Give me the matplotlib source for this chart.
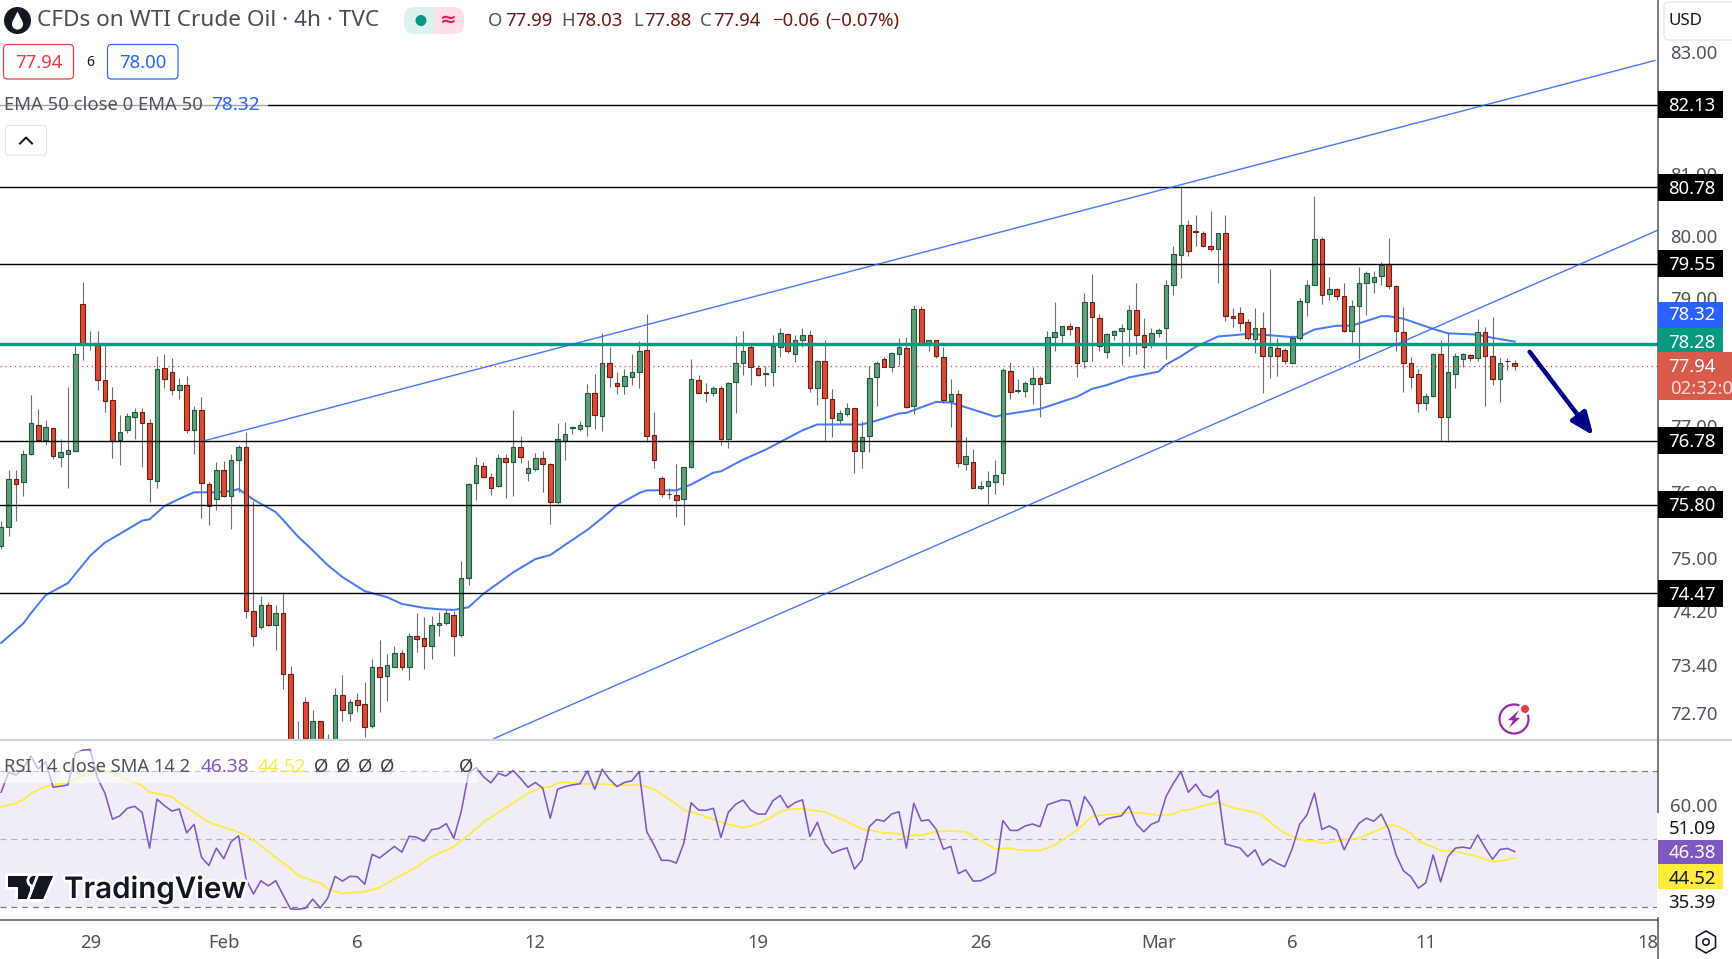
#!/usr/bin/env python3
# -*- coding: utf-8 -*-

import numpy as np
import matplotlib
matplotlib.use("Agg")
import matplotlib.pyplot as plt
import matplotlib.patheffects as pe
from matplotlib.patches import Rectangle, Circle, Polygon, FancyBboxPatch, RegularPolygon
from matplotlib.ticker import NullLocator

plt.rcParams["font.family"] = ["Noto Sans", "DejaVu Sans"]

opens = [
    75.17, 75.46, 76.19, 76.14, 76.58, 77.02, 76.79, 76.97, 76.53, 76.58,
    76.62, 78.92, 78.30, 78.29, 77.72, 77.41, 76.79, 76.95, 77.14, 77.22,
    77.06, 76.17, 77.91, 77.85, 77.57, 77.64, 76.94, 77.25, 76.11, 75.89,
    76.33, 75.93, 76.49, 76.69, 74.21, 73.96, 74.30, 73.99, 74.18, 73.28,
    72.10, 72.87, 72.18, 72.58, 72.10, 72.32, 72.96, 72.70, 72.89, 72.83,
    72.51, 73.37, 73.25, 73.38, 73.58, 73.38, 73.83, 73.80, 73.69, 74.00,
    74.02, 74.15, 73.85, 74.69, 76.13, 76.39, 76.22, 76.08, 76.51, 76.46,
    76.68, 76.28, 76.35, 76.52, 76.43, 75.84, 76.78, 76.98, 76.96, 77.01,
    77.52, 77.16, 77.98, 77.67, 77.63, 77.76, 77.84, 78.19, 76.87, 76.21,
    75.97, 75.95, 75.89, 76.37, 77.72, 77.53, 77.52, 77.59, 76.80, 77.69,
    77.98, 78.23, 77.90, 77.82, 77.84, 78.23, 78.44, 78.13, 78.34, 78.42,
    77.59, 78.01, 77.43, 77.10, 77.19, 77.28, 76.62, 76.85, 77.76, 78.05,
    77.93, 78.13, 78.22, 77.32, 78.84, 78.29, 78.34, 78.08, 77.40, 77.50,
    76.42, 76.46, 76.05, 76.09, 76.15, 76.28, 77.86, 77.55, 77.55, 77.66,
    77.75, 77.68, 78.39, 78.43, 78.56, 78.55, 78.01, 78.94, 78.69, 78.15,
    78.43, 78.49, 78.52, 78.81, 78.42, 78.26, 78.45, 78.54, 79.21, 79.69,
    80.17, 80.07, 80.05, 79.83, 79.79, 80.04, 78.72, 78.77, 78.63, 78.36,
    78.54, 78.09, 78.22, 78.19, 77.99, 78.38, 78.95, 79.22, 79.94, 79.07,
    79.15, 79.04, 78.48, 78.88, 79.25, 79.26, 79.36, 79.55, 79.20, 78.47,
    77.98, 77.82, 77.36, 77.47, 78.12, 77.15, 77.82, 78.04, 78.11, 78.07,
    78.47, 78.10, 77.73, 78.02, 77.99,
]
highs = [
    75.55, 76.33, 76.33, 76.64, 77.48, 77.27, 77.10, 76.97, 76.80, 77.61,
    78.25, 79.26, 78.49, 78.49, 78.30, 77.61, 77.18, 77.21, 77.28, 77.29,
    77.11, 78.10, 78.12, 78.07, 77.75, 77.79, 77.32, 77.46, 76.15, 76.45,
    76.47, 76.57, 76.72, 76.91, 75.86, 74.42, 74.34, 74.30, 74.48, 73.39,
    72.59, 72.94, 72.74, 72.59, 72.39, 73.07, 73.26, 72.91, 73.00, 73.16,
    73.50, 73.78, 73.57, 73.69, 73.63, 73.87, 74.18, 74.12, 74.13, 74.19,
    74.24, 74.21, 74.95, 76.13, 76.53, 76.45, 76.29, 76.58, 76.58, 77.26,
    76.85, 76.48, 76.59, 76.62, 76.44, 77.05, 77.07, 77.01, 77.09, 77.65,
    77.82, 78.45, 78.23, 77.84, 77.89, 78.13, 78.33, 78.75, 77.22, 76.24,
    76.06, 76.42, 76.38, 78.05, 77.80, 77.67, 77.62, 77.62, 77.69, 78.41,
    78.49, 78.30, 77.96, 77.94, 78.43, 78.54, 78.45, 78.43, 78.53, 78.51,
    78.03, 78.35, 77.58, 77.26, 77.36, 77.29, 77.09, 77.94, 78.02, 78.08,
    78.15, 78.38, 78.39, 78.90, 78.88, 78.35, 78.35, 78.24, 77.74, 77.56,
    76.84, 76.65, 76.16, 76.31, 76.48, 77.90, 78.00, 77.74, 77.70, 77.92,
    77.78, 78.49, 78.94, 78.57, 78.61, 78.55, 79.09, 79.39, 78.75, 78.46,
    78.51, 78.60, 78.90, 79.24, 78.69, 78.53, 78.53, 79.30, 79.84, 80.80,
    80.25, 80.34, 80.08, 80.39, 80.05, 80.34, 78.85, 78.86, 78.67, 78.85,
    78.79, 79.47, 78.38, 78.22, 78.42, 79.01, 79.29, 80.64, 79.98, 79.34,
    79.17, 79.25, 78.98, 79.50, 79.44, 79.44, 79.58, 79.97, 79.22, 78.86,
    78.08, 77.89, 77.51, 78.14, 78.34, 78.46, 78.14, 78.14, 78.12, 78.67,
    78.55, 78.70, 78.06, 78.06, 78.03,
]
lows = [
    75.13, 75.33, 75.55, 75.93, 76.56, 76.77, 76.72, 76.50, 76.38, 76.05,
    76.61, 78.03, 78.19, 77.56, 77.22, 76.52, 76.40, 76.90, 76.80, 76.38,
    75.84, 76.06, 77.59, 77.49, 77.43, 76.90, 76.58, 75.60, 75.50, 75.72,
    75.92, 75.43, 76.00, 74.10, 73.68, 73.94, 73.98, 73.62, 73.06, 72.00,
    71.95, 72.31, 72.06, 72.05, 72.00, 72.27, 72.59, 72.59, 72.72, 72.35,
    72.48, 72.72, 72.88, 73.37, 73.33, 73.19, 73.60, 73.35, 73.50, 73.84,
    74.00, 73.54, 73.82, 74.59, 75.88, 76.21, 75.95, 76.07, 75.91, 75.94,
    76.44, 76.16, 76.32, 76.00, 75.51, 75.81, 76.48, 76.88, 76.93, 76.85,
    76.96, 76.93, 77.61, 77.50, 77.50, 77.64, 77.59, 76.76, 76.36, 75.92,
    75.89, 75.62, 75.49, 76.36, 77.51, 77.38, 77.47, 76.71, 76.67, 77.21,
    77.80, 77.64, 77.78, 77.62, 77.63, 78.08, 78.14, 78.00, 78.24, 77.54,
    77.33, 76.78, 76.83, 77.04, 77.16, 76.29, 76.36, 76.60, 77.31, 77.92,
    77.85, 77.96, 77.29, 77.19, 78.28, 78.17, 78.07, 77.37, 76.99, 76.38,
    76.33, 76.05, 76.03, 75.81, 75.97, 76.10, 77.42, 77.51, 77.45, 77.35,
    77.15, 77.67, 78.17, 78.30, 78.43, 77.76, 77.90, 78.01, 78.18, 78.07,
    78.35, 77.95, 78.10, 78.12, 77.91, 78.22, 78.40, 78.04, 79.05, 79.32,
    79.67, 79.84, 79.82, 79.75, 79.25, 78.64, 78.55, 78.48, 78.35, 78.14,
    77.51, 77.75, 77.79, 77.97, 77.98, 78.34, 78.72, 79.21, 78.91, 78.98,
    78.97, 78.47, 78.30, 78.04, 78.74, 79.08, 79.22, 79.15, 78.18, 77.54,
    77.60, 77.23, 77.26, 77.46, 76.77, 76.76, 77.60, 77.93, 78.01, 78.02,
    77.32, 77.64, 77.38, 77.88, 77.88,
]
closes = [
    75.47, 76.19, 76.12, 76.58, 77.05, 76.79, 76.99, 76.55, 76.60, 76.63,
    78.13, 78.29, 78.29, 77.72, 77.39, 76.78, 76.92, 77.16, 77.22, 77.06,
    76.19, 77.89, 77.74, 77.57, 77.64, 76.95, 77.25, 76.13, 75.78, 76.33,
    75.93, 76.49, 76.69, 74.21, 73.84, 74.30, 73.99, 74.18, 73.28, 72.18,
    72.20, 72.34, 72.58, 72.20, 72.25, 72.96, 72.74, 72.87, 72.82, 72.50,
    73.37, 73.23, 73.40, 73.58, 73.38, 73.83, 73.79, 73.69, 74.00, 74.03,
    74.17, 73.84, 74.69, 76.11, 76.40, 76.22, 76.06, 76.51, 76.45, 76.68,
    76.53, 76.36, 76.52, 76.43, 75.84, 76.80, 76.88, 76.99, 77.02, 77.52,
    77.17, 77.98, 77.76, 77.63, 77.78, 77.84, 78.17, 76.85, 76.49, 75.97,
    75.96, 75.87, 76.37, 77.73, 77.52, 77.52, 77.59, 76.80, 77.68, 77.98,
    78.17, 77.92, 77.80, 77.83, 78.25, 78.45, 78.18, 78.34, 78.42, 77.59,
    78.01, 77.44, 77.13, 77.21, 77.28, 76.62, 76.84, 77.75, 77.98, 77.93,
    78.14, 78.23, 77.30, 78.83, 78.29, 78.34, 78.09, 77.41, 77.50, 76.44,
    76.54, 76.06, 76.09, 76.17, 76.26, 77.87, 77.54, 77.56, 77.67, 77.75,
    77.66, 78.39, 78.47, 78.56, 78.52, 77.99, 78.95, 78.70, 78.25, 78.44,
    78.48, 78.53, 78.81, 78.42, 78.23, 78.45, 78.51, 79.22, 79.71, 80.18,
    79.75, 80.06, 79.83, 79.78, 80.04, 78.72, 78.69, 78.62, 78.37, 78.54,
    78.09, 78.23, 78.09, 78.01, 78.38, 78.96, 79.22, 79.94, 79.06, 79.15,
    79.04, 78.48, 78.88, 79.25, 79.40, 79.34, 79.53, 79.20, 78.48, 77.99,
    77.77, 77.36, 77.47, 78.12, 77.14, 77.84, 78.09, 78.12, 78.07, 78.47,
    78.10, 77.73, 77.98, 78.01, 77.94,
]

ema_idx = [0, 3, 4, 6, 9, 12, 14, 16, 19, 20, 22, 24, 26, 29, 31, 32, 34, 37, 38, 40,
           42, 44, 46, 49, 52, 54, 57, 59, 61, 63, 65, 69, 72, 74, 77, 79, 81, 83, 86, 87,
           91, 93, 96, 97, 100, 103, 108, 110, 113, 116, 118, 121, 122, 126, 128, 134, 135, 140, 145, 147,
           149, 152, 156, 157, 159, 161, 164, 168, 171, 174, 175, 177, 180, 182, 186, 187, 189, 193, 195, 199,
           201, 204]
ema_vals = [73.73, 74.02, 74.17, 74.44, 74.62, 75.03, 75.23, 75.36, 75.56, 75.58,
            75.78, 75.89, 75.99, 75.99, 76.01, 76.04, 75.88, 75.69, 75.57, 75.32,
            75.11, 74.89, 74.71, 74.50, 74.41, 74.31, 74.25, 74.23, 74.22, 74.26,
            74.46, 74.78, 74.98, 75.04, 75.27, 75.42, 75.60, 75.79, 75.98, 76.02,
            76.02, 76.11, 76.29, 76.31, 76.49, 76.64, 76.94, 77.03, 77.03, 77.03,
            77.09, 77.20, 77.21, 77.38, 77.37, 77.15, 77.18, 77.27, 77.46, 77.58,
            77.64, 77.76, 77.85, 77.96, 78.09, 78.24, 78.40, 78.44, 78.42, 78.39,
            78.40, 78.51, 78.57, 78.57, 78.72, 78.72, 78.68, 78.52, 78.45, 78.43,
            78.38, 78.32]

rsi_vals = [
    63.8, 69.7, 68.9, 70.9, 74.5, 70.7, 72.8, 65.3, 65.6, 66.0,
    75.3, 76.2, 76.4, 67.9, 63.5, 55.9, 56.9, 59.1, 59.7, 57.9,
    47.4, 61.8, 59.9, 58.3, 58.9, 51.9, 54.4, 44.7, 42.3, 47.4,
    44.3, 49.3, 51.0, 38.3, 33.9, 37.8, 36.3, 37.8, 33.6, 29.5,
    29.4, 29.7, 32.4, 29.8, 32.6, 39.1, 37.7, 39.1, 39.0, 36.8,
    45.6, 44.5, 46.2, 47.9, 46.2, 50.9, 50.6, 49.4, 52.8, 53.2,
    54.6, 50.3, 58.1, 69.4, 71.1, 68.4, 66.6, 69.4, 68.6, 70.2,
    67.9, 65.3, 66.7, 65.0, 56.2, 64.7, 65.5, 66.0, 66.3, 70.1,
    64.7, 70.6, 67.6, 65.5, 66.7, 67.2, 69.9, 52.3, 48.3, 43.8,
    43.8, 43.0, 48.8, 60.7, 58.6, 58.5, 59.1, 50.5, 57.9, 60.3,
    61.5, 58.6, 57.4, 57.4, 61.3, 62.9, 59.3, 60.8, 61.6, 50.8,
    55.0, 48.8, 45.9, 46.8, 47.5, 41.2, 43.8, 53.7, 55.8, 55.3,
    57.4, 58.1, 47.4, 60.6, 55.4, 55.7, 53.0, 47.1, 47.9, 39.9,
    41.0, 37.7, 37.8, 38.9, 40.2, 55.5, 52.6, 52.6, 53.9, 54.5,
    53.7, 60.1, 60.9, 61.6, 61.3, 53.9, 62.6, 59.5, 54.2, 56.0,
    56.5, 56.9, 59.7, 54.5, 52.2, 54.4, 55.3, 62.6, 66.5, 69.9,
    63.8, 66.2, 63.0, 62.3, 64.4, 48.6, 48.0, 47.4, 44.9, 46.9,
    42.4, 44.2, 42.9, 41.9, 47.2, 54.4, 57.2, 63.6, 52.9, 53.9,
    52.7, 46.9, 51.3, 54.7, 56.2, 55.3, 57.4, 52.9, 45.4, 40.7,
    39.0, 35.6, 37.2, 45.4, 37.5, 44.9, 47.4, 47.7, 47.3, 51.3,
    47.5, 44.1, 47.0, 47.3, 46.38,
]

sma_idx = [0, 2, 3, 4, 6, 9, 13, 14, 19, 20, 21, 23, 24, 28, 32, 34, 37, 39, 40, 43,
           44, 46, 49, 51, 53, 56, 58, 61, 63, 65, 68, 71, 73, 74, 75, 76, 78, 81, 83, 86,
           88, 90, 92, 94, 97, 100, 102, 104, 105, 106, 108, 111, 114, 116, 117, 119, 121, 122, 123, 124,
           126, 128, 130, 134, 136, 137, 140, 142, 145, 147, 148, 150, 152, 154, 156, 158, 159, 160, 162, 164,
           166, 169, 170, 171, 173, 175, 176, 177, 178, 181, 183, 185, 187, 188, 190, 191, 193, 194, 196, 199,
           201, 202, 204]
sma_vals = [59.5, 60.6, 61.6, 63.5, 65.5, 66.7, 70.4, 70.1, 65.8, 63.8,
            63.5, 62.5, 60.8, 55.0, 52.1, 49.8, 44.6, 41.5, 39.3, 37.1,
            35.4, 34.0, 34.6, 35.8, 38.3, 41.8, 44.9, 47.8, 51.3, 55.0,
            59.3, 63.5, 65.3, 65.4, 66.5, 66.8, 66.3, 66.3, 65.8, 66.0,
            64.7, 61.9, 58.6, 57.4, 55.0, 53.4, 54.5, 56.7, 58.1, 58.8,
            59.0, 58.0, 55.2, 53.0, 52.7, 51.9, 51.6, 50.6, 51.2, 51.2,
            52.3, 52.4, 52.2, 47.1, 47.4, 46.9, 46.6, 48.3, 52.7, 56.7,
            57.0, 57.4, 57.9, 57.6, 57.0, 57.4, 58.6, 58.6, 59.9, 60.8,
            59.3, 57.9, 57.0, 55.0, 51.8, 50.0, 49.5, 49.6, 48.8, 49.8,
            50.3, 52.2, 54.1, 54.0, 51.8, 49.5, 47.7, 46.7, 46.4, 44.9,
            43.4, 43.6, 44.52]

levels = [82.13, 80.78, 79.55, 76.78, 75.80, 74.47]
support_price = 78.28
last_price = 77.94
price_ticks = [83.00, 81.00, 80.00, 79.00, 77.00, 76.00, 75.00, 74.20, 73.40, 72.70]
upper_channel = ([27.4, 222.9], [76.78, 82.86])
lower_channel = ([66.4, 223.3], [72.33, 80.09])
arrow_from = (206.0, 78.16)
arrow_to = (214.6, 76.86)
date_ticks = [12, 30, 48, 72, 102, 132, 156, 174, 192, 222]
date_labels = ["29", "Feb", "6", "12", "19", "26", "Mar", "6", "11", "18"]

W, H = 1732, 959
AXIS_X = 1658
PANEL_Y = 740
TIME_Y = 920
GREY = "#50535e"


def pt(px):
    return px * 0.72


def draw_candles(ax):
    idx = np.arange(len(closes))
    o, h, l, c = map(np.array, (opens, highs, lows, closes))
    up = c >= o
    ax.vlines(idx, l, h, color="#6a6d72", lw=pt(1.1), zorder=3)
    body_lo = np.minimum(o, c)
    body_h = np.maximum(np.abs(c - o), 0.005)
    ax.bar(idx[up], body_h[up], bottom=body_lo[up], width=0.62, color="#5f9e7c",
           edgecolor="#1f5a3c", linewidth=pt(1.1), zorder=4)
    ax.bar(idx[~up], body_h[~up], bottom=body_lo[~up], width=0.62, color="#d94c36",
           edgecolor="#6e1d12", linewidth=pt(1.1), zorder=4)


def txt(ov, x, y, s, size, color=GREY, ha="left", weight="normal", zorder=10, **kw):
    # the +1.5 sits the glyphs on the same line as the reference
    return ov.text(x, y + 1.5, s, fontsize=pt(size), color=color, ha=ha, va="center",
                   fontweight=weight, zorder=zorder, **kw)


def price_tag(ov, y, label, face, fg="white", height=27, right=1723):
    ov.add_patch(Rectangle((AXIS_X, y - height / 2), right - AXIS_X, height, color=face, lw=0, zorder=7))
    txt(ov, 1692, y, label, 18.5, color=fg, ha="center", zorder=8)


def rounded(ov, x0, y0, x1, y1, edge, face="white", r=4, lw=1.2, zorder=6):
    ov.add_patch(FancyBboxPatch((x0, y0), x1 - x0, y1 - y0, boxstyle=f"round,pad=0,rounding_size={r}",
                                fc=face, ec=edge, lw=pt(lw), zorder=zorder))


def main():
    fig = plt.figure(figsize=(W / 100, H / 100), dpi=100, facecolor="white")

    # price pane
    ax = fig.add_axes([0, (H - PANEL_Y) / H, AXIS_X / W, PANEL_Y / H])
    ax.set_yscale("log")
    ax.set_xlim(-0.155, 223.3)
    ax.set_ylim(72.31, 83.87)
    ax.yaxis.set_minor_locator(NullLocator())
    ax.yaxis.tick_right()
    ax.set_yticks(price_ticks)
    ax.set_yticklabels([f"{t:.2f}" for t in price_ticks], fontsize=pt(18.5), color=GREY)
    ax.yaxis.set_minor_locator(NullLocator())
    ax.tick_params(axis="y", length=0, pad=8.5)
    ax.set_xticks([])
    for s in ax.spines.values():
        s.set_visible(False)

    ax.plot(ema_idx, ema_vals, color="#2962ff", lw=pt(2.0), alpha=0.85, zorder=2)
    draw_candles(ax)
    for lv in levels:
        ax.axhline(lv, color="black", lw=pt(1.4), zorder=5)
    ax.axhline(support_price, color="#089981", lw=pt(3.4), zorder=5)
    ax.axhline(last_price, color="#f23645", lw=pt(1.2), ls=(0, (1, 3)), zorder=5)
    ax.plot(*upper_channel, color="#2962ff", lw=pt(1.4), alpha=0.85, zorder=6)
    ax.plot(*lower_channel, color="#2962ff", lw=pt(1.4), alpha=0.85, zorder=6)
    ax.annotate("", xy=arrow_to, xytext=arrow_from, zorder=7,
                arrowprops=dict(arrowstyle="-|>,head_length=0.8,head_width=0.33", color="#00008b",
                                lw=pt(4.5), shrinkA=0, shrinkB=0, mutation_scale=17))

    # rsi pane
    rs = fig.add_axes([0, (H - TIME_Y) / H, AXIS_X / W, (TIME_Y - PANEL_Y - 1) / H])
    rs.set_xlim(-0.155, 223.3)
    rs.set_ylim(26.26, 78.9)
    rs.axhspan(30, 70, color="#f0ecf8", lw=0, zorder=1)
    rs.axhline(70, color="#787b86", lw=pt(1.2), ls=(0, (5, 4)), zorder=2)
    rs.axhline(50, color="#b2b1bb", lw=pt(1.2), ls=(0, (5, 4)), zorder=2)
    rs.axhline(30, color="#787b86", lw=pt(1.2), ls=(0, (5, 4)), zorder=2)
    rs.plot(sma_idx, sma_vals, color="#ffeb3b", lw=pt(1.7), zorder=3)
    rs.plot(np.arange(len(rsi_vals)), rsi_vals, color="#7e57c2", lw=pt(1.6), zorder=4)
    rs.yaxis.tick_right()
    rs.set_yticks([60])
    rs.set_yticklabels(["60.00"], fontsize=pt(18.5), color=GREY)
    rs.tick_params(axis="y", length=0, pad=8.5)
    rs.set_xticks(date_ticks)
    rs.set_xticklabels(date_labels, fontsize=pt(18.5), color=GREY)
    rs.tick_params(axis="x", length=0, pad=10)
    for s in rs.spines.values():
        s.set_visible(False)

    # overlay in pixels: separators, tags and legend
    ov = fig.add_axes([0, 0, 1, 1], facecolor="none", zorder=5)
    ov.set_xlim(0, W)
    ov.set_ylim(H, 0)
    ov.axis("off")

    ov.plot([0, W], [PANEL_Y, PANEL_Y], color="#d1d4dc", lw=pt(2.2), zorder=3)
    ov.plot([0, AXIS_X], [TIME_Y, TIME_Y], color="#50535e", lw=pt(1.5), zorder=3)
    ov.plot([AXIS_X, AXIS_X], [0, H], color="#50535e", lw=pt(1.5), zorder=3)
    ov.add_patch(Rectangle((AXIS_X - 1, 813), 2.5, 104, color="white", lw=0, zorder=4))

    def py(price):
        return H - ax.transData.transform((0, price))[1]

    for lv in levels:
        price_tag(ov, py(lv), f"{lv:.2f}", "black")
    ov.add_patch(Rectangle((AXIS_X, 352), W - AXIS_X, 48, color="#d9594a", lw=0, zorder=7))
    txt(ov, 1692, 365, "77.94", 18.5, color="white", ha="center", zorder=8)
    txt(ov, 1670, 387, "02:32:08", 18.5, color="#f7dcd8", zorder=8)
    ov.add_patch(Rectangle((AXIS_X, 328), 65, 24, color="#089981", lw=0, zorder=7))
    txt(ov, 1692, 341, "78.28", 18.5, color="white", ha="center", zorder=8)
    ov.add_patch(Rectangle((AXIS_X, 302), 65, 26, color="#2962ff", lw=0, zorder=7))
    txt(ov, 1692, 314, "78.32", 18.5, color="white", ha="center", zorder=8)

    # rsi labels
    txt(ov, 1692, 827, "51.09", 18.5, color="#131722", ha="center", zorder=8)
    ov.add_patch(Rectangle((AXIS_X, 840), 65, 24, color="#7e57c2", lw=0, zorder=7))
    txt(ov, 1692, 852, "46.38", 18.5, color="white", ha="center", zorder=8)
    ov.add_patch(Rectangle((AXIS_X, 864), 65, 25, color="#ffeb3b", lw=0, zorder=7))
    txt(ov, 1692, 877, "44.52", 18.5, color="#131722", ha="center", zorder=8)
    txt(ov, 1692, 902, "35.39", 18.5, color="#131722", ha="center", zorder=8)

    # currency button
    rounded(ov, 1664, 2, 1745, 40, "#e0e3eb", r=5)
    txt(ov, 1669, 19.5, "USD", 17, color="#131722")

    # header
    ov.add_patch(Circle((17.5, 20.5), 13.5, color="#131722", lw=0, zorder=8))
    ov.add_patch(Circle((17.5, 24), 5.6, color="white", lw=0, zorder=9))
    ov.add_patch(Polygon([(17.5, 11.5), (12.5, 21.5), (22.5, 21.5)], color="white", lw=0, zorder=9))
    txt(ov, 37, 19, "CFDs on WTI Crude Oil · 4h · TVC", 22.6, color="#4a4d57")
    ov.add_patch(FancyBboxPatch((404, 7), 30, 27, boxstyle="round,pad=0,rounding_size=10", fc="#dcf2ee", lw=0, zorder=6))
    ov.add_patch(Rectangle((420, 7), 14, 27, color="#dcf2ee", lw=0, zorder=6))
    ov.add_patch(FancyBboxPatch((434, 7), 30, 27, boxstyle="round,pad=0,rounding_size=10", fc="#fcdfe9", lw=0, zorder=6))
    ov.add_patch(Rectangle((434, 7), 14, 27, color="#fcdfe9", lw=0, zorder=6))
    ov.add_patch(Circle((421, 20.5), 5.5, color="#089981", lw=0, zorder=7))
    txt(ov, 448, 19, "≈", 20, color="#e91e63", ha="center", weight="bold", family="DejaVu Sans")

    dark_red = "#6b1a14"
    for x, s, c in [(488, "O", GREY), (505, "77.99", dark_red), (561, "H", GREY), (575, "78.03", dark_red),
                    (633, "L", GREY), (644, "77.88", dark_red), (700, "C", GREY), (713, "77.94", dark_red),
                    (772, "−0.06", dark_red), (825, "(−0.07%)", dark_red)]:
        txt(ov, x, 19.5, s, 18.5, color=c)

    rounded(ov, 3.5, 44.5, 73.5, 79, "#f23645", r=4)
    txt(ov, 38.5, 61.5, "77.94", 18.5, color="#f23645", ha="center")
    txt(ov, 90, 61.5, "6", 14, color="#131722", ha="center")
    rounded(ov, 107.5, 44.5, 178, 79, "#2962ff", r=4)
    txt(ov, 143, 61.5, "78.00", 18.5, color="#2962ff", ha="center")

    ov.add_patch(Rectangle((0, 92), 268, 24, color="white", alpha=0.65, lw=0, zorder=5))
    txt(ov, 4, 103.5, "EMA 50 close 0 EMA 50", 18.5, color=GREY)
    txt(ov, 211, 103.5, "78.32", 19, color="#2962ff")
    rounded(ov, 5.5, 125.5, 46.5, 155, "#e0e3eb", r=3)
    ov.plot([20, 26, 32], [143.5, 137.5, 143.5], color="#131722", lw=pt(2), zorder=8)

    # rsi legend over a pale band
    ov.add_patch(Rectangle((0, 751), 478, 32, color="white", alpha=0.6, lw=0, zorder=5))
    txt(ov, 4, 765, "RSI 14 close SMA 14 2", 18.3, color=GREY)
    txt(ov, 201, 765, "46.38", 19, color="#7e57c2")
    txt(ov, 258, 765, "44.52", 19, color="#ffeb3b")
    for x in [321, 343, 365, 387, 466]:
        txt(ov, x, 765, "Ø", 18.5, color="#3a3d45", ha="center")

    # watermark
    halo = [pe.withStroke(linewidth=pt(6), foreground="white")]
    logo = "#131722"
    for patch in [Polygon([(8, 876), (30, 876), (30, 899), (18, 899), (18, 887), (8, 887)], color=logo, lw=0, zorder=9),
                  Circle((34, 880.5), 4.5, color=logo, lw=0, zorder=9),
                  Polygon([(39, 876), (53, 876), (43, 899), (30, 899)], color=logo, lw=0, zorder=9)]:
        patch.set_path_effects(halo + [pe.Normal()])
        ov.add_patch(patch)
    t = ov.text(64, 898, "TradingView", fontsize=pt(29.5), color=logo, fontweight="semibold",
                family="Inter", va="baseline", ha="left", zorder=9)
    t.set_path_effects([pe.withStroke(linewidth=pt(5), foreground="white")])

    # flash icon
    purple = "#9c27b0"
    ov.add_patch(Circle((1514, 719), 14.5, fc="none", ec=purple, lw=pt(2.2), zorder=8))
    ov.add_patch(Circle((1525, 709), 6.5, color="white", lw=0, zorder=8))
    ov.add_patch(Circle((1525, 709), 4, color="#f23645", lw=0, zorder=9))
    ov.add_patch(Polygon([(1519, 710), (1508, 720), (1513, 720.5), (1509, 728), (1520, 718), (1515, 717.5)],
                         color=purple, lw=0, zorder=9))

    # settings hexagon
    ov.add_patch(RegularPolygon((1706, 942), 6, radius=11, orientation=np.pi / 6 + np.pi / 6,
                                fc="none", ec="#131722", lw=pt(1.6), zorder=8))
    ov.add_patch(Circle((1706, 942), 3.2, fc="none", ec="#131722", lw=pt(1.6), zorder=8))

    fig.savefig("out.png", dpi=100, facecolor="white")
    plt.close(fig)


if __name__ == "__main__":
    main()
